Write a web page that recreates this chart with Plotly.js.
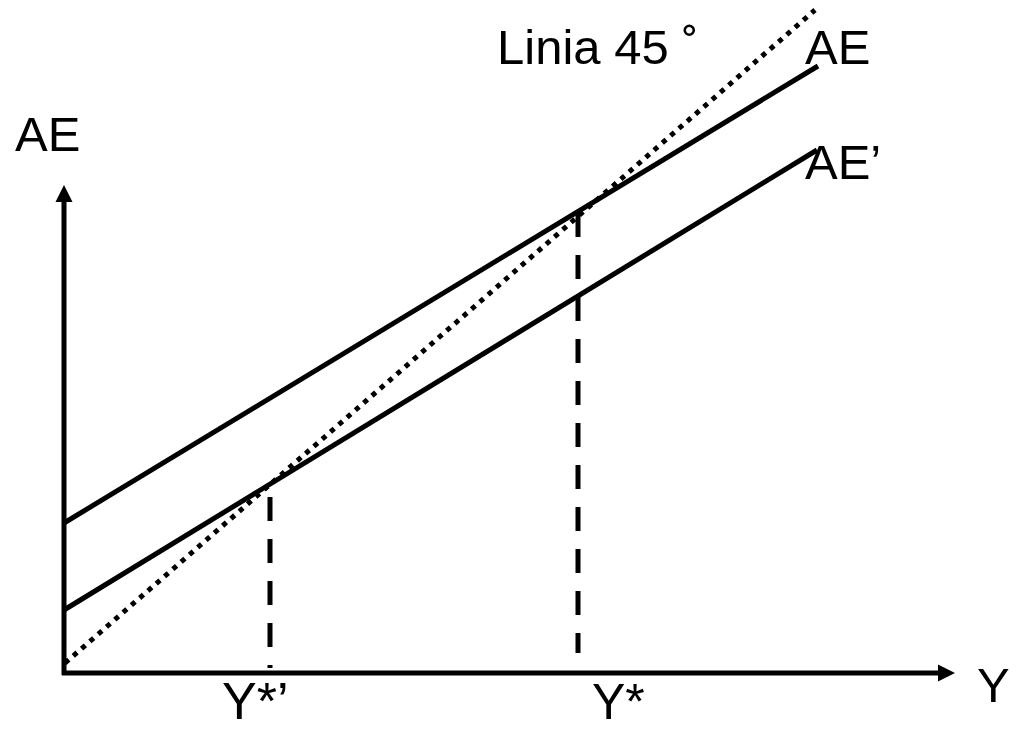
<!DOCTYPE html>
<html>
<head>
<meta charset="utf-8">
<script src="https://cdn.plot.ly/plotly-3.0.1.min.js"></script>
<style>
  html, body { margin: 0; padding: 0; background: #ffffff; }
  #chart { width: 1017px; height: 733px; }
</style>
</head>
<body>
<div id="chart"></div>
<script>
// Keynesian cross: output Y across, aggregate expenditure AE up.
// The 45-degree line marks AE = Y; the planned-expenditure lines cross it at equilibrium.
const line45X = [1, 751];
const line45Y = [10, 663];
const aeX = [0, 754];
const aeY = [150, 607];
const aePrimeX = [0, 753];
const aePrimeY = [63, 523];

// Equilibrium outputs and the vertical guide lines dropped from them
const eqLabels = ['Y*’', 'Y*'];
const eqX = [206, 514];
const eqTop = [176, 460];
const eqBottom = [5, 20];

// Axis extents (tips of the arrows)
const axisXEnd = 891;
const axisYEnd = 488;

const FONT = '"Liberation Sans", Arial, sans-serif';
const BLACK = '#000000';
const HEAD = 17;

const traces = [];

// axes with arrowheads
traces.push({x: [-2, axisXEnd - HEAD], y: [0, 0], mode: 'lines',
  line: {color: BLACK, width: 5}, hoverinfo: 'skip'});
traces.push({x: [0, 0], y: [-2, axisYEnd - HEAD], mode: 'lines',
  line: {color: BLACK, width: 5}, hoverinfo: 'skip'});
traces.push({x: [axisXEnd - HEAD, axisXEnd - HEAD, axisXEnd, axisXEnd - HEAD],
  y: [-HEAD / 2, HEAD / 2, 0, -HEAD / 2], mode: 'lines', fill: 'toself',
  fillcolor: BLACK, line: {color: BLACK, width: 0}, hoverinfo: 'skip'});
traces.push({x: [-HEAD / 2, HEAD / 2, 0, -HEAD / 2],
  y: [axisYEnd - HEAD, axisYEnd - HEAD, axisYEnd, axisYEnd - HEAD], mode: 'lines', fill: 'toself',
  fillcolor: BLACK, line: {color: BLACK, width: 0}, hoverinfo: 'skip'});

// 45-degree line, square dots
traces.push({x: line45X, y: line45Y, mode: 'lines',
  line: {color: BLACK, width: 5, dash: '5px,6px'}, hoverinfo: 'skip'});

// aggregate expenditure lines
traces.push({x: aeX, y: aeY, mode: 'lines', line: {color: BLACK, width: 5}, hoverinfo: 'skip'});
traces.push({x: aePrimeX, y: aePrimeY, mode: 'lines', line: {color: BLACK, width: 5}, hoverinfo: 'skip'});

// dashed guides from each equilibrium down to the output axis
eqX.forEach((xv, i) => {
  traces.push({x: [xv, xv], y: [eqTop[i], eqBottom[i]], mode: 'lines',
    line: {color: BLACK, width: 5, dash: '24px,18px'}, hoverinfo: 'skip'});
});

function label(text, x, y, size) {
  return {text: text, x: x, y: y, xref: 'x', yref: 'y', showarrow: false,
    xanchor: 'left', yanchor: 'middle', borderpad: 0,
    font: {family: FONT, size: size, color: BLACK}};
}

const layout = {
  width: 1017, height: 733,
  margin: {l: 0, r: 0, t: 0, b: 0, pad: 0},
  paper_bgcolor: '#ffffff', plot_bgcolor: '#ffffff',
  showlegend: false,
  xaxis: {range: [-64, 953], visible: false, fixedrange: true},
  yaxis: {range: [-60, 673], visible: false, fixedrange: true},
  annotations: [
    label('AE', -50, 539, 49),
    label('Linia 45 ˚', 432, 626, 49),
    label('AE', 740, 626, 49),
    label('AE’', 740, 511, 49),
    label('Y', 912, -12, 49),
    label(eqLabels[0], eqX[0] - 49, -28, 52),
    label(eqLabels[1], eqX[1] + 13, -29, 50)
  ]
};

Plotly.newPlot('chart', traces, layout, {staticPlot: true, displayModeBar: false});
</script>
</body>
</html>
